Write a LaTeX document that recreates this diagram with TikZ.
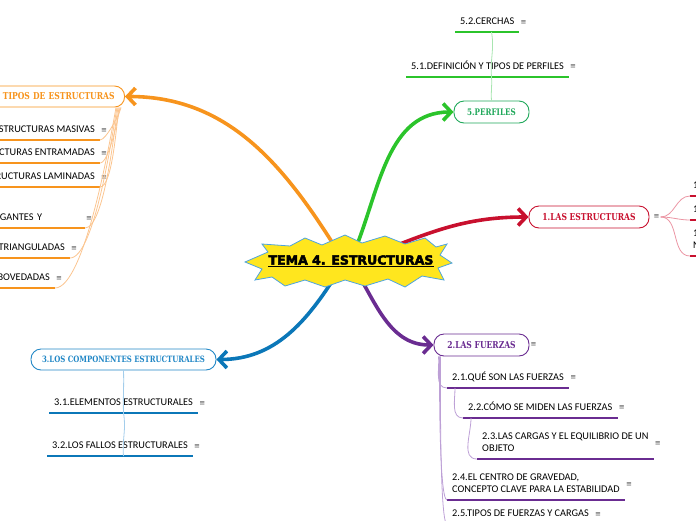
\documentclass[tikz,border=0pt]{standalone}
\usepackage{fontspec}
\setmainfont{Carlito}
\newfontfamily\slabfont{DejaVu Serif}[FakeStretch=0.8]
\newfontfamily\iconfont{DejaVu Sans}
\newfontfamily\titlefont{DejaVu Sans Bold}[FakeBold=3.5]
\usetikzlibrary{arrows.meta}

\definecolor{naranja}{HTML}{F7941D}
\definecolor{naranjaclaro}{HTML}{FBC590}
\definecolor{verde}{HTML}{2BC42B}
\definecolor{verdeosc}{HTML}{1FA85A}
\definecolor{verdeclaro}{HTML}{A8E5B0}
\definecolor{rojo}{HTML}{C8102E}
\definecolor{rojoclaro}{HTML}{EB95A3}
\definecolor{azul}{HTML}{0B77B8}
\definecolor{azulpill}{HTML}{2187C6}
\definecolor{azulclaro}{HTML}{A3CDEB}
\definecolor{morado}{HTML}{6A2C91}
\definecolor{moradoclaro}{HTML}{BDA0D6}
\definecolor{amarillo}{HTML}{FFE61E}
\definecolor{bordeestrella}{HTML}{4EA4DF}

\tikzset{
  pill/.style={draw=#1, line width=0.9pt, fill=white, rounded corners=10pt, text=#1, minimum height=22pt, inner xsep=10pt, font=\slabfont\bfseries\fontsize{9.5}{11}\selectfont},
  rama/.style={draw=#1, line width=3.6pt, line cap=round, -{Straight Barb[length=8pt,width=17pt]}},
  hilo/.style={draw=#1, line width=0.8pt},
  sub/.style={font=\fontsize{10.3}{12.5}\selectfont, inner xsep=5pt, inner ysep=4.5pt, text depth=2.5pt, append after command={(\tikzlastnode.south west) edge[draw=#1, line width=1.8pt] (\tikzlastnode.south east)}},
  menu/.style={font=\iconfont\fontsize{7}{7}\selectfont, text=black!70, inner sep=1pt},
}

\begin{document}
\begin{tikzpicture}[x=1pt, y=-1pt]
  \useasboundingbox (0,0) rectangle (696,520);
  \clip (0,0) rectangle (696,520);

  % temas principales
  \node[pill=rojo, minimum width=120pt, label={[menu, xshift=3pt, name=m1]east:≡}] (estructuras) at (589,217) {1.LAS ESTRUCTURAS};
  \node[pill=morado, minimum width=95pt, label={[menu, name=m2]east:≡}] (fuerzas) at (481.5,345) {2.LAS FUERZAS};
  \node[pill=azulpill, minimum width=185pt, minimum height=21pt, font=\slabfont\bfseries\fontsize{8.7}{10}\selectfont] (componentes) at (123.5,359.5) {3.LOS COMPONENTES ESTRUCTURALES};
  \node[pill=naranja, minimum height=21pt, text width=140pt, align=right, anchor=east] (tipos) at (125,96.5) {TIPOS DE ESTRUCTURAS};
  \node[pill=verdeosc, minimum width=75pt, font=\slabfont\bfseries\fontsize{9}{11}\selectfont] (perfiles) at (491.5,112) {5.PERFILES};

  % 5.PERFILES
  \node[sub=verde, anchor=south west, label={[menu]east:≡}] (p51) at (406,77) {5.1.DEFINICIÓN Y TIPOS DE PERFILES};
  \node[sub=verde, anchor=south west, label={[menu]east:≡}] (p52) at (455,32) {5.2.CERCHAS};
  \draw[hilo=verdeclaro] (perfiles.north) to[out=95,in=-85] (perfiles.north |- p51.south);
  \draw[hilo=verdeclaro] (perfiles.north |- p51.south) to[out=95,in=-80] (perfiles.north |- p52.south);

  % 1.LAS ESTRUCTURAS
  \node[sub=rojo, inner xsep=3pt, anchor=south west] (r11) at (690,196) {1};
  \node[sub=rojo, inner xsep=3pt, anchor=south west] (r12) at (690,220) {1};
  \node[sub=rojo, inner xsep=3pt, anchor=south west, align=left] (r13) at (690,256) {1\\N};
  \draw[hilo=rojoclaro] (m1.east) to[out=0,in=180] (r11.south west);
  \draw[hilo=rojoclaro] (m1.east) to[out=0,in=180] (r12.south west);
  \draw[hilo=rojoclaro] (m1.east) to[out=0,in=180] (r13.south west);

  % 2.LAS FUERZAS
  \node[sub=morado, anchor=south west, label={[menu]east:≡}] (f21) at (447,388) {2.1.QUÉ SON LAS FUERZAS};
  \node[sub=morado, anchor=south west, label={[menu]east:≡}] (f22) at (463,418) {2.2.CÓMO SE MIDEN LAS FUERZAS};
  \node[sub=morado, anchor=south west, align=left, label={[menu]east:≡}] (f23) at (477,459) {2.3.LAS CARGAS Y EL EQUILIBRIO DE UN\\OBJETO};
  \node[sub=morado, anchor=south west, align=left, label={[menu]east:≡}] (f24) at (447,500) {2.4.EL CENTRO DE GRAVEDAD,\\CONCEPTO CLAVE PARA LA ESTABILIDAD};
  \node[sub=morado, anchor=south west, label={[menu]east:≡}] (f25) at (447,524) {2.5.TIPOS DE FUERZAS Y CARGAS};
  \draw[hilo=moradoclaro] ([xshift=5pt]fuerzas.south west) to[out=-85,in=180] (f21.south west);
  \draw[hilo=moradoclaro] ([xshift=6pt]fuerzas.south west) to[out=-90,in=180,looseness=0.15] (f24.south west);
  \draw[hilo=moradoclaro] ([xshift=7pt]fuerzas.south west) to[out=-90,in=180,looseness=0.12] (f25.south west);
  \draw[hilo=moradoclaro] ([xshift=8pt]f21.south west) to[out=-90,in=180] (f22.south west);
  \draw[hilo=moradoclaro] ([xshift=8pt]f22.south west) to[out=-90,in=180] (f23.south west);

  % 3.LOS COMPONENTES ESTRUCTURALES
  \node[sub=azul, anchor=south west, label={[menu]east:≡}] (c31) at (49,413) {3.1.ELEMENTOS ESTRUCTURALES};
  \node[sub=azul, anchor=south west, label={[menu]east:≡}] (c32) at (47,456) {3.2.LOS FALLOS ESTRUCTURALES};
  \draw[hilo=azulclaro] (componentes.south) to[out=-88,in=92] (componentes.south |- c31.south);
  \draw[hilo=azulclaro] (componentes.south |- c31.south) to[out=-80,in=95] (componentes.south |- c32.south);

  % tipos de estructuras
  \node[sub=naranja, anchor=south east, label={[menu]east:≡}] (o1) at (100,140) {STRUCTURAS MASIVAS};
  \node[sub=naranja, anchor=south east, label={[menu]east:≡}] (o2) at (100,163) {CTURAS ENTRAMADAS};
  \node[sub=naranja, anchor=south east, label={[menu]east:≡}] (o3) at (100,187) {RUCTURAS LAMINADAS};
  \node[sub=naranja, anchor=south east, text width=80pt, align=left, label={[menu]east:≡}] (o4) at (85,228) {GANTES Y\\\mbox{}};
  \node[sub=naranja, anchor=south east, label={[menu]east:≡}] (o5) at (70,258) {TRIANGULADAS};
  \node[sub=naranja, anchor=south east, label={[menu]east:≡}] (o6) at (55,288) {BOVEDADAS};
  \draw[hilo=naranjaclaro] (o1.south east) to[out=0,in=-100,looseness=0.4] ([xshift=-4pt]tipos.south east);
  \draw[hilo=naranjaclaro] (o2.south east) to[out=0,in=-100,looseness=0.4] ([xshift=-5pt]tipos.south east);
  \draw[hilo=naranjaclaro] (o3.south east) to[out=0,in=-100,looseness=0.4] ([xshift=-6pt]tipos.south east);
  \draw[hilo=naranjaclaro] (o4.south east) to[out=0,in=-100,looseness=0.4] ([xshift=-7pt]tipos.south east);
  \draw[hilo=naranjaclaro] (o5.south east) to[out=0,in=-100,looseness=0.4] ([xshift=-8pt]tipos.south east);
  \draw[hilo=naranjaclaro] (o6.south east) to[out=0,in=-100,looseness=0.4] ([xshift=-9pt]tipos.south east);

  % ramas desde el centro
  \coordinate (s1) at (380,252);
  \coordinate (s2) at (357,272);
  \coordinate (s3) at (338,272);
  \coordinate (s4) at (337,250);
  \coordinate (s5) at (355,250);
  \draw[rama=rojo] (s1) to[out=22,in=180] (estructuras.west);
  \draw[rama=morado] (s2) to[out=-60,in=180] (fuerzas.west);
  \draw[rama=azul] (s3) to[out=-122,in=0] (componentes.east);
  \draw[rama=naranja] (s4) to[out=122,in=0] (tipos.east);
  \draw[rama=verde] (s5) to[out=68,in=180] (perfiles.west);

  % estrella central
  \filldraw[fill=amarillo, draw=bordeestrella, line width=0.8pt] (245,262) -- (268,252) -- (262,244) -- (290,246) -- (305,238) -- (322,245) -- (345,235) -- (362,243) -- (385,236) -- (405,244) -- (425,238) -- (436,247) -- (447,244) -- (440,255) -- (452,263) -- (438,268) -- (444,280) -- (422,276) -- (405,287) -- (388,279) -- (365,286) -- (345,280) -- (325,287) -- (305,280) -- (285,286) -- (272,277) -- (255,280) -- (262,269) -- cycle;
  \node[inner sep=0pt, font=\titlefont\fontsize{12.5}{14}\selectfont] (titulo) at (351,260) {TEMA 4. ESTRUCTURAS};
  \draw[line width=1.3pt] ([yshift=-2pt]titulo.base west) -- ([yshift=-2pt]titulo.base east);
\end{tikzpicture}
\end{document}
